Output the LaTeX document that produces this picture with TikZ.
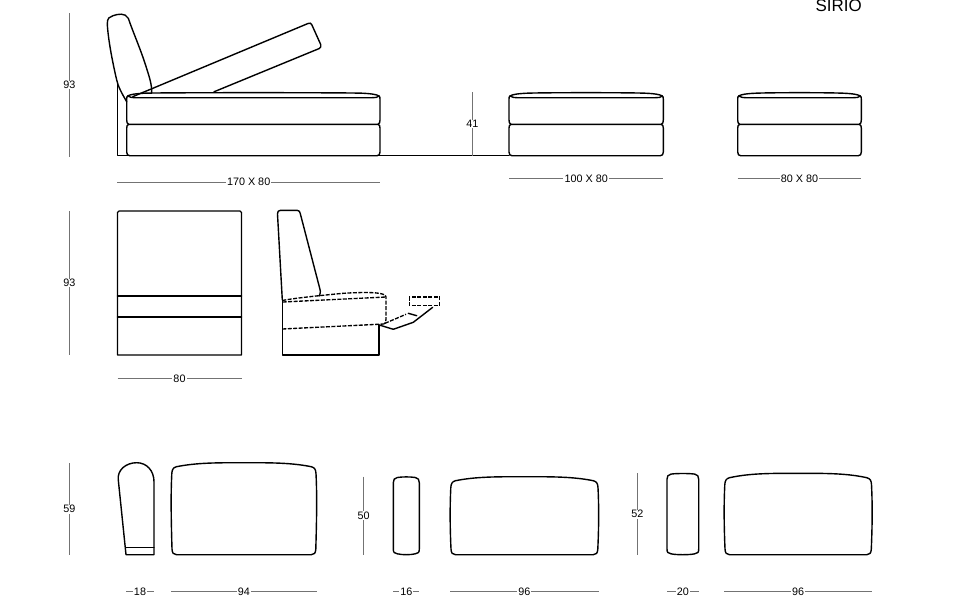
\documentclass[tikz,border=0pt]{standalone}
\usepackage{fontspec}
\setmainfont{Liberation Sans}
\tikzset{
  outline/.style={line width=1.05pt, black, line join=round, line cap=round},
  hidden/.style={line width=1pt, black, dash pattern=on 3pt off 1.1pt},
  dimline/.style={line width=0.55pt, black!55},
  dimtext/.style={fill=white, text=black, inner xsep=0.8pt, inner ysep=0.5pt, font=\fontsize{8.1}{9}\selectfont},
  % stacked seat block, drawn between \xa and \xb
  seatblock/.pic={
    \draw[outline] (\xa+1,96) .. controls (\xa+3,94.5) and (\xa+9,93.6) .. (\xa+18,93.2)
      .. controls (\xa+35,92.5) and (\xb-35,92.5) .. (\xb-18,93.2)
      .. controls (\xb-9,93.6) and (\xb-3,94.5) .. (\xb-1,96);
    \draw[outline] (\xa+1,96) .. controls (\xa+3,97.5) and (\xa+6,97.7) .. (\xa+8,97.7) -- (\xb-8,97.7)
      .. controls (\xb-5,97.7) and (\xb-2,97.5) .. (\xb-1,96);
    \draw[outline] (\xa+1,96) .. controls (\xa+0.2,96.5) and (\xa,97.5) .. (\xa,99) -- (\xa,120)
      .. controls (\xa,122.5) and (\xa+0.5,123.8) .. (\xa+2,124.3) -- (\xb-2,124.3)
      .. controls (\xb-0.5,123.8) and (\xb,122.5) .. (\xb,120) -- (\xb,99)
      .. controls (\xb,97.5) and (\xb-0.2,96.5) .. (\xb-1,96);
    \draw[outline] (\xa+2,124.3) .. controls (\xa+0.5,124.8) and (\xa,126) .. (\xa,128) -- (\xa,152)
      .. controls (\xa,154.5) and (\xa+1,155.7) .. (\xa+3,155.7) -- (\xb-3,155.7)
      .. controls (\xb-1,155.7) and (\xb,154.5) .. (\xb,152) -- (\xb,128)
      .. controls (\xb,126) and (\xb-0.5,124.8) .. (\xb-2,124.3);
  },
  % flat cushion, \ys = height of its side corners
  softcushion/.pic={
    \draw[outline] (\xa+5,\ys) .. controls (\xa+25,\yt) and (\xa+45,\yt) .. ({0.5*(\xa+\xb)},\yt)
      .. controls (\xb-45,\yt) and (\xb-25,\yt) .. (\xb-5,\ys)
      .. controls (\xb-1.5,\ys+1) and (\xb-0.5,\ys+3) .. (\xb-0.3,\ys+7)
      .. controls (\xb+0.6,\ys+25) and (\xb+0.6,\ys+45) .. (\xb-0.5,549)
      .. controls (\xb-0.7,553) and (\xb-2,554.7) .. (\xb-5,554.7) -- (\xa+5,554.7)
      .. controls (\xa+2,554.7) and (\xa+0.7,553) .. (\xa+0.5,549)
      .. controls (\xa-0.6,\ys+45) and (\xa-0.6,\ys+25) .. (\xa+0.3,\ys+7)
      .. controls (\xa+0.5,\ys+3) and (\xa+1.5,\ys+1) .. (\xa+5,\ys) -- cycle;
  },
  % narrow end cushion
  endcushion/.pic={
    \draw[outline] (\xa+4,\yt+0.8) .. controls (\xa+9,\yt) and (\xb-9,\yt) .. (\xb-4,\yt+0.8)
      .. controls (\xb-1,\yt+1.3) and (\xb,\yt+3) .. (\xb,\yt+6) -- (\xb,549)
      .. controls (\xb,552.5) and (\xb-1,553.3) .. (\xb-4,553.8)
      .. controls (\xb-9,555) and (\xa+9,555) .. (\xa+4,553.8)
      .. controls (\xa+1,553.3) and (\xa,552.5) .. (\xa,549) -- (\xa,\yt+6)
      .. controls (\xa,\yt+3) and (\xa+1,\yt+1.3) .. (\xa+4,\yt+0.8) -- cycle;
  },
}
\begin{document}
\begin{tikzpicture}[x=0.75pt,y=-0.75pt]
  \useasboundingbox (0,0) rectangle (970,600);

  \node[font=\fontsize{12.7}{14}\selectfont, text=black, inner sep=0pt] (title) at (838.7,6) {SIRIO};

  % Chaise, side view
  \draw[outline] (117.3,81.7) -- (117.3,155.7) -- (509,155.7);
  \draw[outline] (126.7,101.7) .. controls (121,92) and (118,86) .. (116.7,80)
    .. controls (112,60) and (108,38) .. (107.3,24)
    .. controls (107,18) and (110,16.5) .. (113,15.7)
    .. controls (118,14) and (125,12.5) .. (128.3,18.3)
    .. controls (133,32) and (140,48) .. (145,63.3)
    .. controls (149,76) and (152,84) .. (151.7,93);
  \def\xa{126.7}\def\xb{380}
  \pic {seatblock};
  % lifted cushion
  \draw[outline] (132.7,96.7) -- (308,23.5) .. controls (310,22.8) and (311,23) .. (311.7,24.5)
    -- (320.7,44.5) .. controls (321.2,46.5) and (320.8,47.5) .. (319.3,48.5) -- (214,91.8);

  % Ottomans
  \def\xa{509}\def\xb{663.3}
  \pic {seatblock};
  \def\xa{737.7}\def\xb{861.3}
  \pic {seatblock};

  % Module, front view
  \draw[outline] (119,211) -- (240,211) .. controls (241,211) and (241.5,211.5) .. (241.5,212.5)
    -- (241.5,355) -- (117.5,355) -- (117.5,212.5) .. controls (117.5,211.5) and (118,211) .. (119,211);
  \draw[outline] (117.5,296) -- (241.5,296);
  \draw[outline] (117.5,317) -- (241.5,317);

  % Module, side view
  \draw[outline] (282.3,300) -- (277.5,214) .. controls (277.4,211.5) and (278.5,210.3) .. (280.5,210.3)
    -- (297,210.3) .. controls (299,210.3) and (299.8,211.5) .. (300.2,213.3)
    -- (319.3,286.7) .. controls (320.6,290) and (320.8,292) .. (319.3,296);
  \draw[outline] (282.3,300) -- (282.3,355) -- (379,355) -- (379,325);
  \draw[hidden] (282.3,300.5) .. controls (295,298) and (325,295) .. (343.3,293.3)
    .. controls (355,292.5) and (368,292.3) .. (375,292.8)
    .. controls (382,293.5) and (386,294.5) .. (386,297) -- (386,319)
    .. controls (386,322) and (385.5,323.3) .. (384,324);
  \draw[hidden] (282.7,302) -- (386,297);
  \draw[hidden] (282.3,329) -- (384,324);
  % footrest
  \draw[outline] (379.3,325) -- (393.3,329.3) -- (413.3,322.3) -- (432.7,307.3);
  \draw[hidden] (385,323.3) -- (406,314.3);
  \draw[outline] (408.3,313.3) -- (416.7,315.7);
  \draw[hidden] (409.3,297) rectangle (439.7,305.3);

  % Loose cushions
  \draw[outline] (126,554.7) -- (118.3,480)
    .. controls (117,470) and (126,462.7) .. (136.7,462.7)
    .. controls (147,462.7) and (154,471) .. (154,481.7)
    -- (154,554.7) -- cycle;
  \draw[outline] (126,547.3) -- (154,547.3);
  \def\xa{171.5}\def\xb{316.3}\def\ys{466.7}\def\yt{462.7}
  \pic {softcushion};
  \def\xa{393.3}\def\xb{419.3}\def\yt{476.7}
  \pic {endcushion};
  \def\xa{450.5}\def\xb{598.3}\def\ys{480.7}\def\yt{476.7}
  \pic {softcushion};
  \def\xa{667}\def\xb{698.7}\def\yt{473.3}
  \pic {endcushion};
  \def\xa{724.5}\def\xb{871.8}\def\ys{477.7}\def\yt{473.3}
  \pic {softcushion};

  % Heights
  \draw[dimline] (69.3,13) -- (69.3,157) node[dimtext, pos=0.5] (hChaise) {93};
  \draw[dimline] (472.3,92.3) -- (472.3,155.7) node[dimtext, midway] (hSeat) {41};
  \draw[dimline] (69.3,211) -- (69.3,355) node[dimtext, midway] (hFront) {93};
  \draw[dimline] (69.3,463.3) -- (69.3,555) node[dimtext, midway] (hBolster) {59};
  \draw[dimline] (363.7,476.7) -- (363.7,555) node[dimtext, midway] (hEndA) {50};
  \draw[dimline] (637.3,473.3) -- (637.3,555) node[dimtext, midway] (hEndB) {52};

  % Widths
  \draw[dimline] (117.3,182) -- (380,182) node[dimtext, midway] (wChaise) {170 X 80};
  \draw[dimline] (509,178.3) -- (663.3,178.3) node[dimtext, midway] (wOttoA) {100 X 80};
  \draw[dimline] (737.7,178.3) -- (861.3,178.3) node[dimtext, midway] (wOttoB) {80 X 80};
  \draw[dimline] (117.5,378.3) -- (241.5,378.3) node[dimtext, midway] (wFront) {80};
  \draw[dimline] (126,591.3) -- (154,591.3) node[dimtext, midway] (wBolster) {18};
  \draw[dimline] (171,591.3) -- (316.7,591.3) node[dimtext, midway] (wBack) {94};
  \draw[dimline] (393.3,591.3) -- (419.3,591.3) node[dimtext, midway] (wEndA) {16};
  \draw[dimline] (450,591.3) -- (598.7,591.3) node[dimtext, midway] (wBackA) {96};
  \draw[dimline] (667,591.3) -- (698.7,591.3) node[dimtext, midway] (wEndB) {20};
  \draw[dimline] (724,591.3) -- (872.3,591.3) node[dimtext, midway] (wBackB) {96};
\end{tikzpicture}
\end{document}
